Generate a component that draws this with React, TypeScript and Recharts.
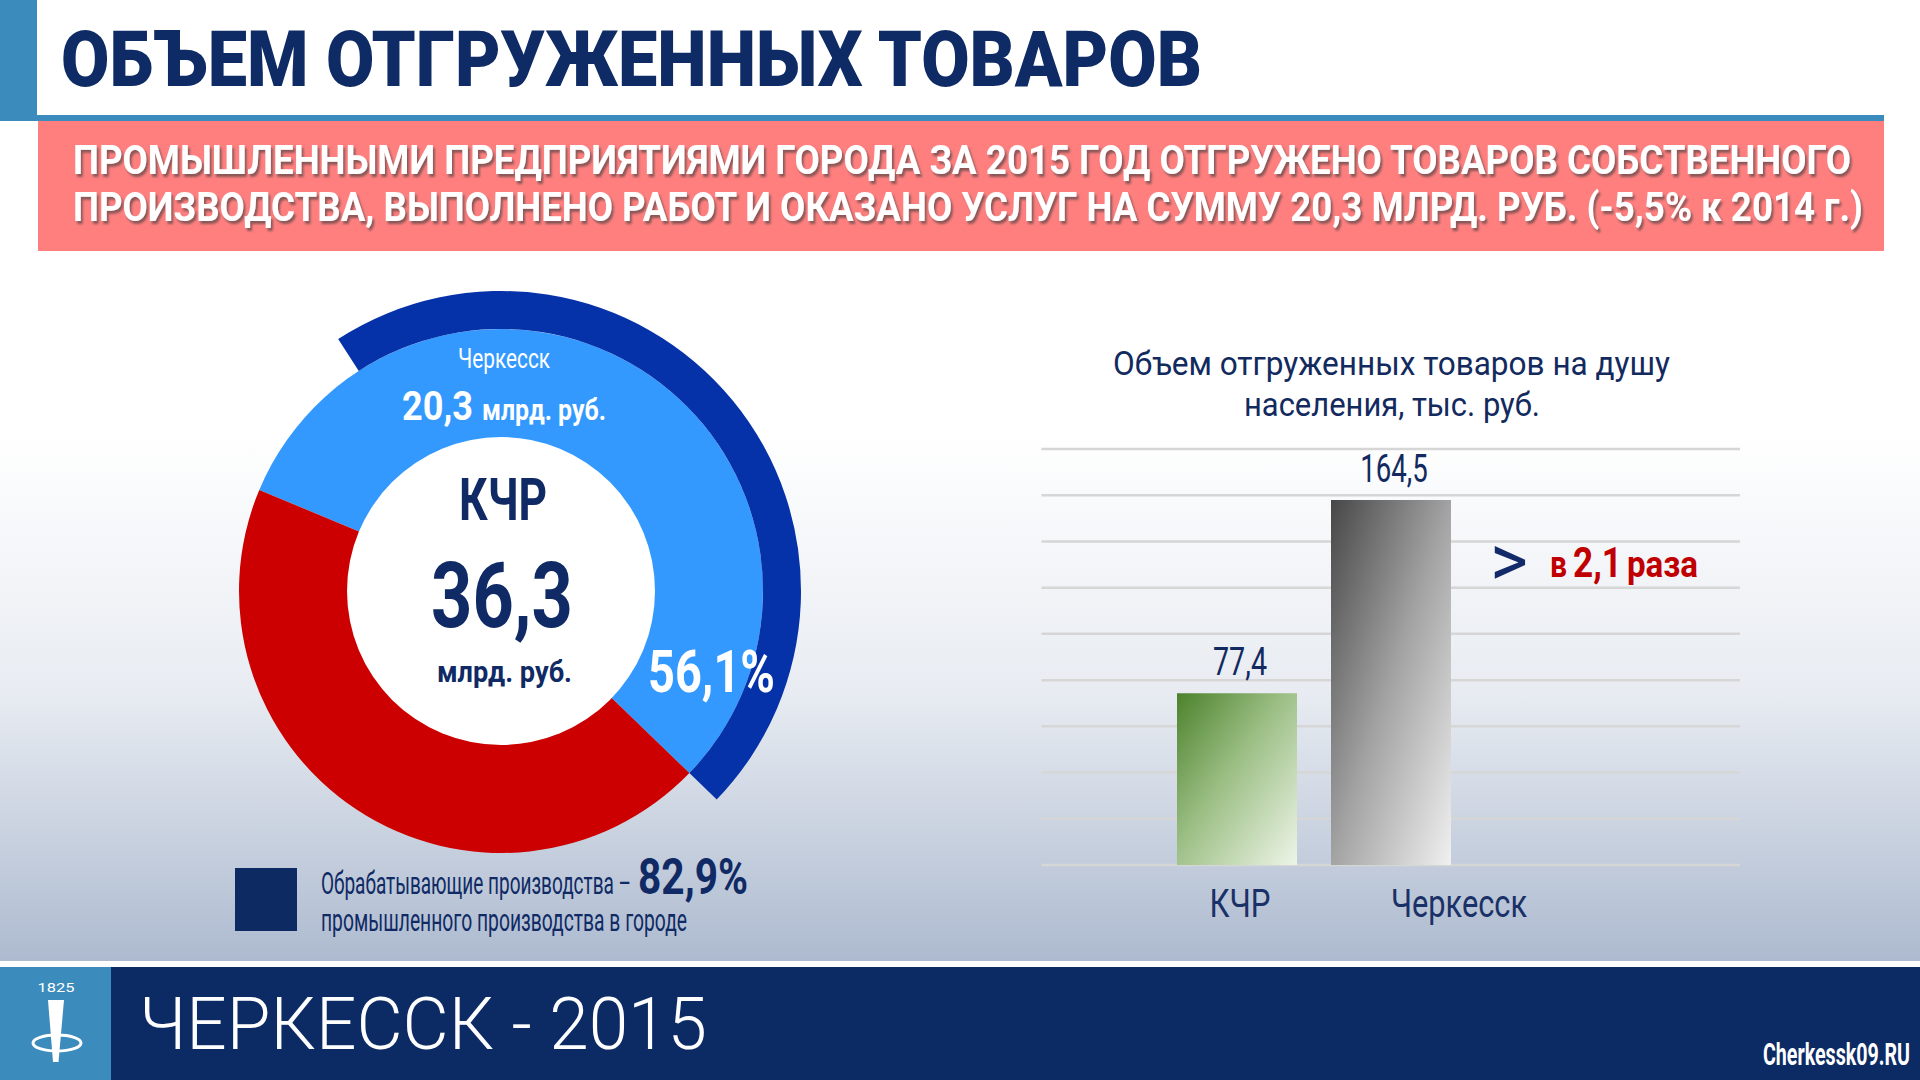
import React from 'react';
import { PieChart, Pie, Cell, BarChart, Bar, XAxis, YAxis, CartesianGrid, LabelList } from 'recharts';

// donut: Черкесск share of КЧР shipments, bln rub
const regionName = 'КЧР';
const cityName = 'Черкесск';
const regionTotal = 36.3;
const cityTotal = 20.3;
const cityShareLabel = '56,1%';
const manufacturingPct = 82.9;

// bars: shipments per capita, thousand rub
const categories = ['КЧР', 'Черкесск'];
const perCapita = [77.4, 164.5];
const gridTicks = [0, 20.8, 41.7, 62.5, 83.3, 104.2, 125, 145.8, 166.7, 187.5];

const ringData = [
  { name: cityName, value: cityTotal },
  { name: regionName, value: +(regionTotal - cityTotal).toFixed(1) },
];
const manufacturing = (cityTotal * manufacturingPct) / 100;
const outerData = [
  { name: 'Прочие', value: cityTotal - manufacturing },
  { name: 'Обрабатывающие производства', value: manufacturing },
  { name: 'КЧР без Черкесска', value: regionTotal - cityTotal },
];
const ringColors = ['#3399ff', '#cc0000'];
const outerColors = ['none', '#0532a8', 'none'];

const barData = categories.map((name, i) => ({ name, value: perCapita[i] }));

const FONT = "Roboto, 'Noto Sans', 'DejaVu Sans', sans-serif";
const NAVY = '#0f2a64';
const START = 157.3;

const T = ({ x, y, w, size, weight = 400, fill = NAVY, anchor = 'start', filter, children }: any) => (
  <text
    x={x}
    y={y}
    fontSize={size}
    fontWeight={weight}
    fill={fill}
    textAnchor={anchor}
    textLength={w}
    lengthAdjust="spacingAndGlyphs"
    fontFamily={FONT}
    filter={filter}
  >
    {children}
  </text>
);

const tickShift = [3, 68];
const tickWidth = [61, 136];

const CategoryTick = (props: any) => {
  const { x, y, payload, index } = props;
  return (
    <T x={x + tickShift[index]} y={y + 52} w={tickWidth[index]} size={39} anchor="middle" fill="#1a3168">
      {payload.value}
    </T>
  );
};

const ValueLabel = (props: any) => {
  const { x, y, width, value } = props;
  const txt = String(value).replace('.', ',');
  return (
    <T x={x + width / 2 + 3} y={y - 18} w={txt.length * 13.5} size={39} anchor="middle" fill="#132a60">
      {txt}
    </T>
  );
};

export default function App() {
  return (
    <div style={{ position: 'absolute', left: 0, top: 0, width: 1920, height: 1080, overflow: 'hidden', background: '#fff' }}>
      <svg width={1920} height={1080} style={{ position: 'absolute', left: 0, top: 0 }}>
        <defs>
          <linearGradient id="bg" x1="0" y1="0" x2="0" y2="1">
            <stop offset="0" stopColor="#ffffff" />
            <stop offset="0.45" stopColor="#ffffff" />
            <stop offset="0.72" stopColor="#e8ecf2" />
            <stop offset="1" stopColor="#adbacf" />
          </linearGradient>
        </defs>
        <rect x={0} y={0} width={1920} height={961} fill="url(#bg)" />
        <rect x={0} y={961} width={1920} height={6} fill="#ffffff" />
        <rect x={0} y={967} width={1920} height={113} fill="#0c2b65" />
        <rect x={0} y={967} width={111} height={113} fill="#3b8bbc" />
        <rect x={0} y={0} width={37} height={121} fill="#3b8bbc" />
        <rect x={37} y={115} width={1847} height={6} fill="#3b8bbc" />
        <rect x={38} y={121} width={1846} height={130} fill="#ff7f7f" />
      </svg>

      <div style={{ position: 'absolute', left: 181, top: 271 }}>
        <PieChart width={640} height={640} margin={{ top: 0, right: 0, bottom: 0, left: 0 }}>
          <Pie
            data={ringData}
            dataKey="value"
            cx={320}
            cy={320}
            innerRadius={150}
            outerRadius={262}
            startAngle={START}
            endAngle={START - 360}
            stroke="none"
            isAnimationActive={false}
          >
            {ringData.map((d, i) => (
              <Cell key={d.name} fill={ringColors[i]} />
            ))}
          </Pie>
          <Pie
            data={outerData}
            dataKey="value"
            cx={320}
            cy={320}
            innerRadius={262}
            outerRadius={300}
            startAngle={START}
            endAngle={START - 360}
            stroke="none"
            isAnimationActive={false}
          >
            {outerData.map((d, i) => (
              <Cell key={d.name} fill={outerColors[i]} />
            ))}
          </Pie>
        </PieChart>
      </div>

      <div style={{ position: 'absolute', left: 1000, top: 420 }}>
        <BarChart width={780} height={520} data={barData} margin={{ top: 29, right: 40, bottom: 0, left: 41.5 }} barSize={120}>
          <defs>
            <linearGradient id="gGreen" x1="0" y1="0" x2="1" y2="1">
              <stop offset="0" stopColor="#4c822c" />
              <stop offset="0.45" stopColor="#9cbf85" />
              <stop offset="1" stopColor="#eef5e8" />
            </linearGradient>
            <linearGradient id="gGray" x1="0" y1="0" x2="1" y2="1">
              <stop offset="0" stopColor="#474747" />
              <stop offset="0.5" stopColor="#a3a3a3" />
              <stop offset="1" stopColor="#f0f0f0" />
            </linearGradient>
          </defs>
          <CartesianGrid vertical={false} stroke="#d6d6d6" strokeWidth={2.5} />
          <YAxis hide domain={[0, 187.5]} ticks={gridTicks} />
          <XAxis
            dataKey="name"
            axisLine={false}
            tickLine={false}
            tickSize={0}
            tickMargin={0}
            height={75}
            padding={{ left: 118.5, right: 272 }}
            tick={<CategoryTick />}
            interval={0}
          />
          <Bar dataKey="value" isAnimationActive={false}>
            <Cell fill="url(#gGreen)" />
            <Cell fill="url(#gGray)" />
            <LabelList dataKey="value" content={<ValueLabel />} />
          </Bar>
        </BarChart>
      </div>

      <svg width={1920} height={1080} style={{ position: 'absolute', left: 0, top: 0, pointerEvents: 'none' }}>
        <defs>
          <filter id="sh" x="-5%" y="-30%" width="110%" height="160%">
            <feDropShadow dx="2" dy="3" stdDeviation="1.2" floodColor="#3a3a3a" floodOpacity="0.6" />
          </filter>
        </defs>

        <T x={61} y={86} w={1141} size={77} weight={900} fill="#0f2b66">ОБЪЕМ ОТГРУЖЕННЫХ ТОВАРОВ</T>
        <T x={73} y={174} w={1778} size={41} weight={700} fill="#ffffff" filter="url(#sh)">
          ПРОМЫШЛЕННЫМИ ПРЕДПРИЯТИЯМИ ГОРОДА ЗА 2015 ГОД ОТГРУЖЕНО ТОВАРОВ СОБСТВЕННОГО
        </T>
        <T x={73} y={221} w={1790} size={41} weight={700} fill="#ffffff" filter="url(#sh)">
          ПРОИЗВОДСТВА, ВЫПОЛНЕНО РАБОТ И ОКАЗАНО УСЛУГ НА СУММУ 20,3 МЛРД. РУБ. (-5,5% к 2014 г.)
        </T>

        <circle cx={501} cy={591} r={154} fill="#ffffff" />
        <T x={458} y={368} w={92} size={28} fill="#ffffff">{cityName}</T>
        <T x={402} y={420} w={71} size={40} weight={700} fill="#ffffff">{String(cityTotal).replace('.', ',')}</T>
        <T x={482} y={420} w={124} size={29} weight={700} fill="#ffffff">млрд. руб.</T>
        <T x={459} y={520} w={88} size={59} weight={700}>{regionName}</T>
        <T x={431} y={627} w={142} size={90} weight={700}>{String(regionTotal).replace('.', ',')}</T>
        <T x={437} y={682} w={135} size={30} weight={700}>млрд. руб.</T>
        <T x={648} y={692} w={127} size={59} weight={700} fill="#ffffff">{cityShareLabel}</T>

        <rect x={235} y={868} width={62} height={63} fill="#0e2a63" />
        <T x={321} y={894} w={310} size={31}>Обрабатывающие производства –</T>
        <T x={638} y={894} w={110} size={50} weight={700}>{String(manufacturingPct).replace('.', ',')}%</T>
        <T x={321} y={931} w={366} size={31}>промышленного производства в городе</T>

        <T x={1113} y={375} w={557} size={33} fill="#122a5e">Объем отгруженных товаров на душу</T>
        <T x={1244} y={416} w={296} size={33} fill="#122a5e">населения, тыс. руб.</T>

        <T x={1490} y={586} w={38} size={74} fill="#12296a">&gt;</T>
        <T x={1550} y={577} w={17} size={36} weight={700} fill="#c00000">в</T>
        <T x={1573} y={577} w={49} size={43} weight={700} fill="#c00000">2,1</T>
        <T x={1627} y={577} w={71} size={36} weight={700} fill="#c00000">раза</T>

        <T x={56} y={992} w={37} size={13} fill="#ffffff" anchor="middle">1825</T>
        <polygon points="48,1000 64,1000 58.5,1062 53,1062" fill="#ffffff" />
        <ellipse cx={57} cy={1043} rx={24} ry={8} fill="none" stroke="#ffffff" strokeWidth={3} />
        <T x={139} y={1049} w={568} size={73} weight={300} fill="#ffffff">ЧЕРКЕССК - 2015</T>
        <T x={1763} y={1065} w={147} size={31} weight={700} fill="#ffffff">Cherkessk09.RU</T>
      </svg>
    </div>
  );
}
